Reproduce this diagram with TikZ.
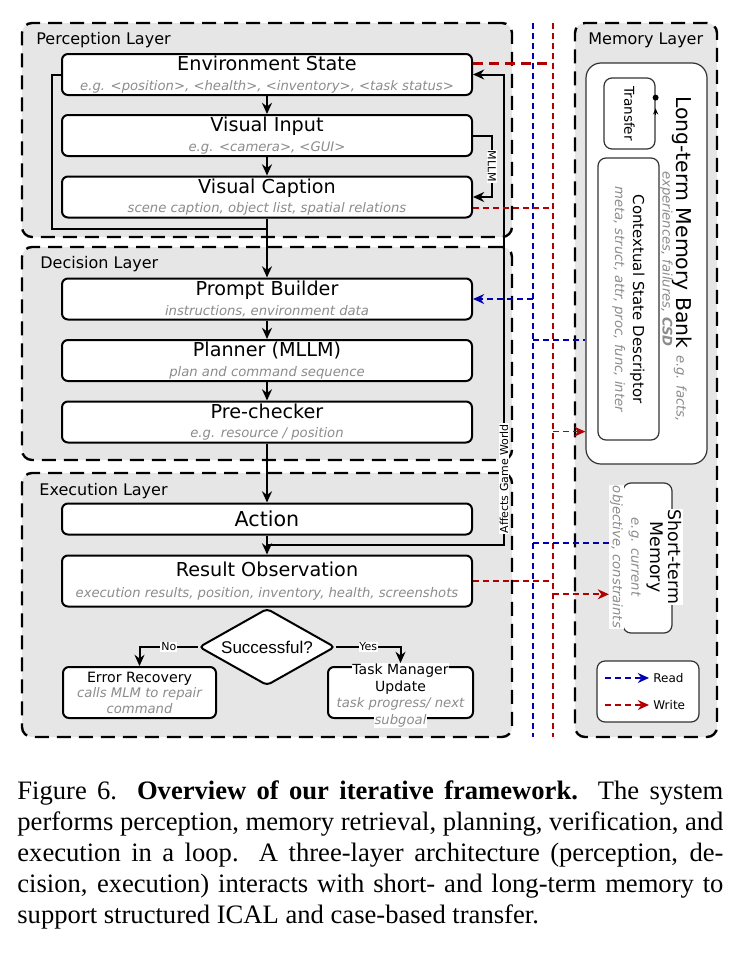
\documentclass[tikz,border=0pt]{standalone}
\usepackage{fontspec}
\setmainfont{DejaVu Sans}
\newfontfamily\capfont{Liberation Serif}
\newfontfamily\diafont{Liberation Sans}
\usepackage{xcolor}
\usepackage{tikz}
\usetikzlibrary{arrows.meta, positioning, shapes.geometric, calc}

\definecolor{layergray}{HTML}{E6E6E6}
\definecolor{notegray}{HTML}{8C8C8C}
\definecolor{readblue}{HTML}{0000B0}
\definecolor{writered}{HTML}{B00000}
\setlength{\fboxsep}{0.4pt}
\newcommand{\subtxt}[1]{{\fontsize{6.6}{8}\selectfont\itshape\color{notegray}#1}}
\newcommand{\wbg}[1]{\colorbox{white}{#1}}

\begin{document}
\begin{tikzpicture}[
        x=0.5pt, y=-0.5pt,
        on grid,
        >={Stealth[length=5.6pt,width=5pt]},
        layer/.style={
            rectangle,
            draw,
            line width=1.2pt,
            dash pattern=on 7pt off 4pt,
            fill=layergray,
            rounded corners=5pt,
            inner sep=0pt
        },
        layertitle/.style={anchor=west, inner sep=0pt, font=\fontsize{8}{9}\selectfont},
        block/.style={
            rectangle,
            draw,
            line width=1pt,
            fill=white,
            rounded corners=3pt,
            minimum width=205pt,
            minimum height=20.5pt,
            inner sep=0pt,
            align=center,
            font=\fontsize{9.6}{9.6}\selectfont
        },
        smallblock/.style={block, minimum width=76.5pt, minimum height=25.5pt, font=\fontsize{7.1}{7.75}\selectfont},
        memblock/.style={rectangle, draw=black!80, line width=0.6pt, fill=white, rounded corners=4pt, inner sep=0pt, align=center},
        flow/.style={->, line width=1pt},
        readline/.style={readblue, line width=0.8pt, dash pattern=on 3pt off 2pt},
        writeline/.style={writered, line width=0.8pt, dash pattern=on 3pt off 2pt},
        edgelabel/.style={fill=white, inner sep=0.4pt, font=\fontsize{5.5}{6}\selectfont},
        keytext/.style={anchor=west, inner sep=2pt, font=\fontsize{6}{7}\selectfont}
    ]
    \useasboundingbox (0,0) rectangle (740,953);

    % Layers
    \node[layer, minimum width=245pt, minimum height=107pt] (perception) at (267,130) {};
    \node[layer, minimum width=245pt, minimum height=106.5pt] (decision) at (267,353.5) {};
    \node[layer, minimum width=245pt, minimum height=132pt] (execution) at (267,605) {};
    \node[layer, minimum width=71pt, minimum height=357pt] (memory) at (646,380) {};
    \node[layertitle] (perceptiontitle) at (36,40) {Perception Layer};
    \node[layertitle] (decisiontitle) at (40,264) {Decision Layer};
    \node[layertitle] (executiontitle) at (39,491) {Execution Layer};
    \node[layertitle] (memorytitle) at (588,40) {Memory Layer};

    % Nodes
    \node[block] (env) at (267,74.5) {Environment State\\\subtxt{e.g. <position>, <health>, <inventory>, <task status>}};
    \node[block, below=30.5pt of env] (visin) {Visual Input\\\subtxt{e.g. <camera>, <GUI>}};
    \node[block, below=30.75pt of visin] (viscap) {Visual Caption\\\subtxt{scene caption, object list, spatial relations}};
    \node[block, below=51pt of viscap] (prompt) {Prompt Builder\\\subtxt{instructions, environment data}};
    \node[block, below=30.75pt of prompt] (planner) {Planner (MLLM)\\\subtxt{plan and command sequence}};
    \node[block, below=30.75pt of planner] (prechk) {Pre-checker\\\subtxt{e.g. resource / position}};
    \node[block, below=48.5pt of prechk, minimum height=15.5pt, font=\fontsize{10.3}{11}\selectfont] (action) {Action};
    \node[block, below=31pt of action, minimum height=25.5pt, font=\fontsize{9.6}{10.2}\selectfont] (result) {Result Observation\\\subtxt{execution results, position, inventory, health, screenshots}};
    \node[diamond, draw, line width=1pt, fill=white, aspect=1.8, minimum width=68pt, minimum height=38.5pt, inner sep=0pt, rounded corners=2pt, font=\diafont\fontsize{8.5}{9}\selectfont, below=33pt of result] (success) {Successful?};
    \node[smallblock] (recovery) at (139.5,692.5) {Error Recovery\\\subtxt{calls MLM to repair}\\\subtxt{command}};
    \node[smallblock, minimum width=72.5pt] (taskbox) at (400.5,692.5) {};
    \node[align=center, inner sep=0pt, font=\fontsize{7}{8.2}\selectfont] (tasktext) at (400.5,695.5) {\wbg{Task Manager}\\Update\\\subtxt{task progress/ next}\\\wbg{\subtxt{subgoal}}};

    % Memory
    \node[memblock, rounded corners=7.5pt, minimum width=60.5pt, minimum height=200.5pt] (ltm) at (646.5,263.5) {};
    \node[memblock, rotate=-90, minimum width=35.5pt, minimum height=25.5pt, font=\fontsize{6.8}{8}\selectfont] (transfer) at (629.5,113.5) {Transfer};
    \node[memblock, rotate=-90, minimum width=141pt, minimum height=30.5pt, font=\fontsize{7.5}{9}\selectfont] (csd) at (628.5,299) {Contextual State Descriptor\\\subtxt{meta, struct, attr, proc, func, inter}};
    \node[rotate=-90, align=center, inner sep=0pt, font={\fontsize{10.2}{7}\selectfont\lineskiplimit=-10pt}] (ltmtext) at (676,259) {Long-term Memory Bank \subtxt{e.g. facts,}\\\subtxt{experiences, failures, \textbf{CSD}}};
    \node[memblock, minimum width=24.5pt, minimum height=75pt] (stm) at (647.5,558) {};
    \node[rotate=-90, align=center, inner sep=0pt, font=\fontsize{8.7}{9.3}\selectfont] (stmtext) at (646,557) {\wbg{Short-term}\\\wbg{Memory}\\\wbg{\subtxt{e.g. current}}\\\wbg{\subtxt{objective, constraints}}};
    \node[memblock, minimum width=51pt, minimum height=30.5pt] (legend) at (648,691.5) {};
    \node[keytext] (readkey) at (649,678) {Read};
    \node[keytext] (writekey) at (649,705) {Write};

    % Arrows
    \draw[flow] (env) -- (visin);
    \draw[flow] (visin) -- (viscap);
    \draw[flow] (viscap) -- (prompt);
    \draw[flow] (prompt) -- (planner);
    \draw[flow] (planner) -- (prechk);
    \draw[flow] (prechk) -- (action);
    \draw[flow] (action) -- (result);
    \coordinate (merge) at ($(viscap.south)+(0,10)$);
    \draw[line width=1pt] (env.west) -- ++(-9,0) |- (merge);
    \draw[flow] (visin.east) -- ++(19,0) |- node[pos=0.25, rotate=-90, edgelabel] (mllm) {MLLM} (viscap.east);
    \draw[flow] (action.south) -- ++(0,9) -| node[pos=0.57, rotate=90, edgelabel] (world) {Affects Game World} ($(env.east)+(31,0)$) -- (env.east);
    \draw[flow] (success.west) -| node[pos=0.25, edgelabel] (nolabel) {No} (recovery.north);
    \draw[flow] (success.east) -| node[pos=0.25, edgelabel] (yeslabel) {Yes} (tasktext.north);

    % Read / write
    \coordinate (readtop) at (533,23);
    \coordinate (readbottom) at (533,737);
    \coordinate (writetop) at (553,23);
    \coordinate (writebottom) at (553,737);
    \draw[readline] (readtop) -- (readbottom);
    \draw[writeline] (writetop) -- (writebottom);
    \draw[readline, ->] (readtop |- prompt.east) -- (prompt.east);
    \coordinate (ltmread) at ($(ltm.north west)!0.69!(ltm.south west)$);
    \draw[readline] (readtop |- ltmread) -- (ltmread);
    \coordinate (stmread) at ($(stm.north west)!0.4!(stm.south west)$);
    \draw[readline] (readtop |- stmread) -- (stmread -| stmtext.south);
    \coordinate (envout) at ($(env.north east)!0.25!(env.south east)$);
    \draw[writeline, line width=1.3pt, dash pattern=on 5pt off 3pt] (envout) -- (writetop |- envout);
    \coordinate (capout) at ($(viscap.north east)!0.75!(viscap.south east)$);
    \draw[writeline] (capout) -- (writetop |- capout);
    \draw[writeline] (result.east) -- (writetop |- result.east);
    \coordinate (ltmwrite) at ($(ltm.north west)!0.918!(ltm.south west)$);
    \draw[writeline, ->] (writetop |- ltmwrite) -- (ltmwrite);
    \coordinate (stmwrite) at ($(stm.north west)!0.74!(stm.south west)$);
    \draw[writeline, ->] (writetop |- stmwrite) -- (stmwrite -| stmtext.south);
    \coordinate (tdot) at ($(transfer.north west)!0.28!(transfer.north east)$);
    \coordinate (ttip) at ($(transfer.north west)!0.43!(transfer.north east)$);
    \coordinate (tbase) at ($(transfer.north west)!0.52!(transfer.north east)$);
    \fill (tdot) circle (1.5pt);
    \draw[-{Stealth[length=3pt,width=2.6pt]}, line width=0.5pt] (tbase) -- (ttip);
    \coordinate (readfrom) at ($(legend.west)+(9,-13.5)$);
    \coordinate (writefrom) at ($(legend.west)+(9,13.5)$);
    \draw[readline, ->] (readfrom) -- (readkey);
    \draw[writeline, ->] (writefrom) -- (writekey);

    % Caption
    \node[anchor=north west, inner sep=0pt, text width=353pt, align=justify, font=\capfont\fontsize{13.3}{15.5}\selectfont] (caption) at (17,780) {Figure 6. \textbf{Overview of our iterative framework.} The system\linebreak performs perception, memory retrieval, planning, verification, and\linebreak execution in a loop. A three-layer architecture (perception, de-\linebreak cision, execution) interacts with short- and long-term memory to\linebreak support structured ICAL and case-based transfer.};

\end{tikzpicture}
\end{document}
